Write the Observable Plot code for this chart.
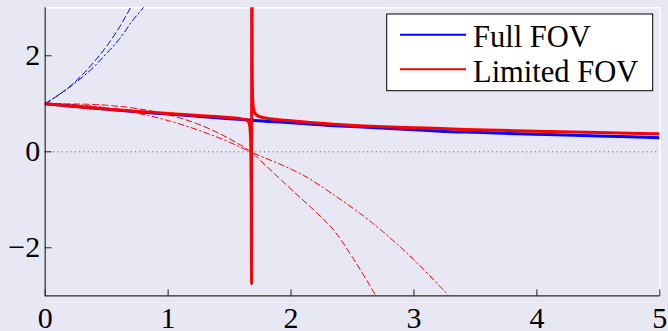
<!DOCTYPE html>
<html><head><meta charset="utf-8">
<script src="https://cdn.jsdelivr.net/npm/d3@7"></script>
<script src="https://cdn.jsdelivr.net/npm/@observablehq/plot@0.6"></script>
<style>
html,body{margin:0;padding:0;background:#e8e8f5;}
#wrap{position:relative;width:668px;height:331px;overflow:hidden;}
#wrap svg text{font-family:"Liberation Serif","Times New Roman",serif;}
#legend{position:absolute;left:386px;top:13px;}
</style>
</head><body>
<div id="wrap"></div>
<script>
// Axis domains and ticks
const xDomain = [0, 5];
const yDomain = [-3, 3];
const xTicks = [0, 1, 2, 3, 4, 5];
const yTicks = [-2, 0, 2];
const zeroLine = [0];

// Full FOV (blue) solid
const fullX = [0, 0.5, 1, 1.5, 1.68, 2, 2.35, 2.5, 3, 3.22, 3.5, 4, 4.5, 5];
const fullY = [1, 0.885, 0.785, 0.69, 0.655, 0.605, 0.545, 0.525, 0.46, 0.43, 0.405, 0.365, 0.33, 0.295];

// Full FOV dashed / dash-dot (blue)
const fullDashX = [0, 0.1, 0.2, 0.3, 0.4, 0.5, 0.6, 0.7, 0.8];
const fullDashY = [1, 1.17, 1.36, 1.6, 1.88, 2.2, 2.58, 3.03, 3.5];
const fullDotX = [0, 0.1, 0.2, 0.3, 0.4, 0.47, 0.5, 0.6, 0.645, 0.7, 0.8, 0.9];
const fullDotY = [1, 1.17, 1.35, 1.55, 1.78, 1.97, 2.05, 2.34, 2.49, 2.7, 3.01, 3.4];

// Limited FOV (red) solid, with singularity near x = 1.68
const limX = [0, 0.25, 0.5, 0.75, 1, 1.25, 1.5, 1.6, 1.64, 1.655, 1.665, 1.672, 1.676, 1.679,
              1.6805, 1.684, 1.69, 1.70, 1.72, 1.76, 1.8, 2.0, 2.35, 2.75, 3.0, 3.22, 3.5, 4.0, 4.5, 5.0];
const limY = [1.0, 0.945, 0.89, 0.84, 0.80, 0.755, 0.715, 0.685, 0.665, 0.62, 0.52, 0.2, -0.8, -2.75,
              8, 1.6, 1.0, 0.84, 0.77, 0.72, 0.70, 0.645, 0.575, 0.52, 0.50, 0.485, 0.46, 0.43, 0.40, 0.375];

// Limited FOV dashed / dash-dot (red)
const limDashX = [0, 0.25, 0.5, 0.75, 1, 1.25, 1.5, 1.67, 1.8, 2.0, 2.2, 2.35, 2.5, 2.69, 2.8];
const limDashY = [1, 0.996, 0.97, 0.90, 0.775, 0.57, 0.27, 0, -0.3, -0.78, -1.25, -1.64, -2.2, -3.0, -3.5];
const limDotX = [0, 0.25, 0.5, 0.75, 1, 1.25, 1.5, 1.67, 2.0, 2.08, 2.35, 2.67, 3.0, 3.27, 3.4];
const limDotY = [1, 0.98, 0.916, 0.806, 0.65, 0.448, 0.198, 0, -0.36, -0.46, -0.9, -1.5, -2.25, -2.96, -3.3];

const seriesNames = ["Full FOV", "Limited FOV"];
const seriesColors = ["#0000ff", "#ff0000"];

const pts = (xs, ys) => xs.map((x, i) => ({x, y: ys[i]}));
const lineOpts = {x: "x", y: "y", curve: "monotone-x", clip: true};
const serif = "Liberation Serif";
const tickShape = {draw(context, l) { context.moveTo(0, 0); context.lineTo(0, -l); }};
const fmt = d3.format("d");

const chart = Plot.plot({
  width: 668,
  height: 331,
  marginLeft: 44.7,
  marginRight: 8.7,
  marginTop: 7.3,
  marginBottom: 35.7,
  style: {background: "transparent", fontFamily: serif, fontSize: "30px", color: "#000", overflow: "visible"},
  x: {domain: xDomain},
  y: {domain: yDomain},
  marks: [
    Plot.frame({stroke: "#ffffff", strokeWidth: 1.5}),
    Plot.ruleY(zeroLine, {stroke: "#555", strokeWidth: 1, strokeDasharray: "1,3.3"}),
    Plot.line(pts(fullDashX, fullDashY), {...lineOpts, stroke: seriesColors[0], strokeWidth: 1, strokeDasharray: "6,3.5"}),
    Plot.line(pts(fullDotX, fullDotY), {...lineOpts, stroke: seriesColors[0], strokeWidth: 1, strokeDasharray: "6,3,1.5,3"}),
    Plot.line(pts(limDashX, limDashY), {...lineOpts, stroke: seriesColors[1], strokeWidth: 1, strokeDasharray: "6,3.5"}),
    Plot.line(pts(limDotX, limDotY), {...lineOpts, stroke: seriesColors[1], strokeWidth: 1, strokeDasharray: "6,3,1.5,3"}),
    Plot.line(pts(fullX, fullY), {...lineOpts, stroke: seriesColors[0], strokeWidth: 3}),
    Plot.line(pts(limX, limY), {...lineOpts, stroke: seriesColors[1], strokeWidth: 3}),
    Plot.ruleX([xDomain[0]], {stroke: "#222", strokeWidth: 1.2}),
    Plot.ruleY([yDomain[0]], {stroke: "#222", strokeWidth: 1.2}),
    Plot.vectorX(xTicks, {x: d => d, frameAnchor: "bottom", length: 6, anchor: "start", shape: tickShape, stroke: "#222", strokeWidth: 1}),
    Plot.vectorY(yTicks, {y: d => d, frameAnchor: "left", length: 6, rotate: 90, anchor: "start", shape: tickShape, stroke: "#222", strokeWidth: 1}),
    Plot.axisX({ticks: xTicks, tickFormat: fmt, tickSize: 0, tickPadding: 11, label: null, fontSize: 30, fontFamily: serif}),
    Plot.axisY({ticks: yTicks, tickFormat: fmt, tickSize: 0, tickPadding: 5, label: null, fontSize: 30, fontFamily: serif})
  ]
});

const wrap = document.getElementById("wrap");
wrap.appendChild(chart);

// Legend overlay
const ns = "http://www.w3.org/2000/svg";
const lg = document.createElementNS(ns, "svg");
lg.setAttribute("id", "legend");
lg.setAttribute("width", 268);
lg.setAttribute("height", 79);
const rect = document.createElementNS(ns, "rect");
rect.setAttribute("x", 0.7); rect.setAttribute("y", 1);
rect.setAttribute("width", 266); rect.setAttribute("height", 76.7);
rect.setAttribute("fill", "#fff"); rect.setAttribute("stroke", "#000"); rect.setAttribute("stroke-width", 1);
lg.appendChild(rect);
const lineYs = [21.7, 56.3];
const textYs = [33.7, 68.7];
seriesNames.forEach((name, i) => {
  const l = document.createElementNS(ns, "line");
  l.setAttribute("x1", 14); l.setAttribute("x2", 80);
  l.setAttribute("y1", lineYs[i]); l.setAttribute("y2", lineYs[i]);
  l.setAttribute("stroke", seriesColors[i]); l.setAttribute("stroke-width", 2);
  lg.appendChild(l);
  const t = document.createElementNS(ns, "text");
  t.setAttribute("x", 87); t.setAttribute("y", textYs[i]);
  t.setAttribute("font-family", serif);
  t.setAttribute("font-size", 30.5);
  t.textContent = name;
  lg.appendChild(t);
});
wrap.appendChild(lg);
</script>
</body></html>
